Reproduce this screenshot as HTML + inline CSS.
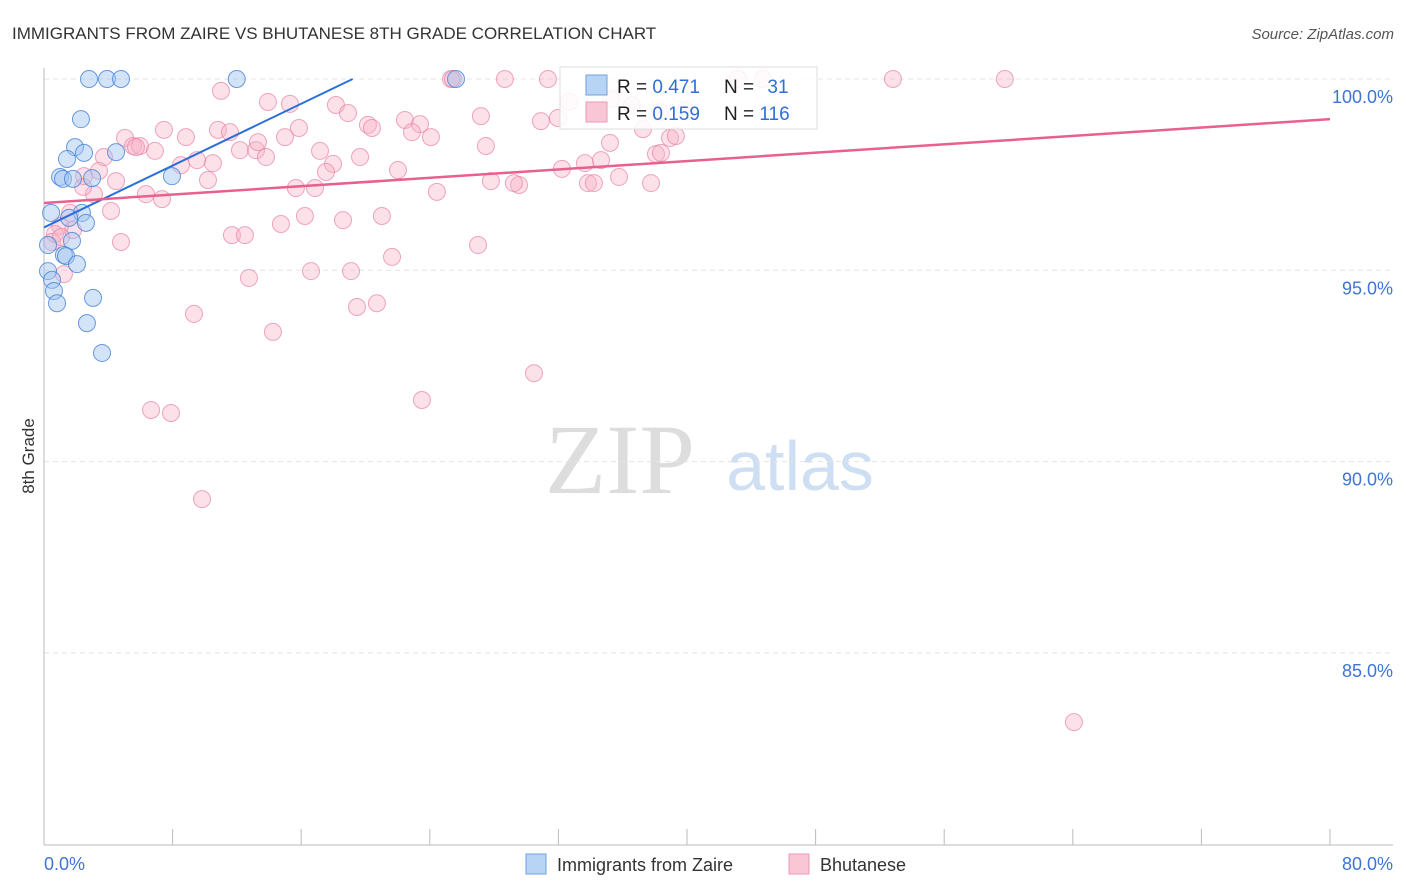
<!DOCTYPE html>
<html><head><meta charset="utf-8"><style>
body{margin:0;background:#fff;font-family:"Liberation Sans",sans-serif}
svg{display:block}
</style></head><body>
<svg id="chart" width="1406" height="892">
<text x="12" y="39" font-size="17" fill="#333">IMMIGRANTS FROM ZAIRE VS BHUTANESE 8TH GRADE CORRELATION CHART</text>
<text x="1394" y="39" font-size="15" fill="#555" font-style="italic" text-anchor="end">Source: ZipAtlas.com</text>
<text x="34" y="456" font-size="17" fill="#333" transform="rotate(-90 34 456)" text-anchor="middle">8th Grade</text>
<text x="620" y="493" font-size="100" fill="#ddd" font-family="Liberation Serif,serif" text-anchor="middle">ZIP</text>
<text x="800" y="490" font-size="70" fill="#cfdff3" text-anchor="middle">atlas</text>
<g id="grid"></g><g id="axes"></g><g id="marks"></g>
<g>
<rect x="560" y="67" width="257" height="62" fill="#fff" fill-opacity="0.85" stroke="#ddd"/>
<rect x="586" y="75" width="21" height="20" fill="#b8d4f5" stroke="#6f9fe0"/>
<rect x="586" y="102" width="21" height="20" fill="#f9c6d5" stroke="#ec9ab4"/>
<text x="617" y="93" font-size="19" fill="#222">R = <tspan fill="#2f6fd6">0.471</tspan></text>
<text x="724" y="93" font-size="19" fill="#222">N = <tspan fill="#2f6fd6" dx="8">31</tspan></text>
<text x="617" y="120" font-size="19" fill="#222">R = <tspan fill="#2f6fd6">0.159</tspan></text>
<text x="724" y="120" font-size="19" fill="#222">N = <tspan fill="#2f6fd6">116</tspan></text>
</g>
<g>
<rect x="526" y="854" width="20" height="20" fill="#b8d4f5" stroke="#6f9fe0"/>
<text x="557" y="871" font-size="18" fill="#333">Immigrants from Zaire</text>
<rect x="789" y="854" width="20" height="20" fill="#f9c6d5" stroke="#ec9ab4"/>
<text x="820" y="871" font-size="18" fill="#333">Bhutanese</text>
</g>
</svg>
<script>
const blueX=[2.80,3.92,4.79,11.99,25.63,2.30,1.93,2.49,1.43,4.48,1.00,1.18,1.80,2.99,7.96,0.44,2.36,2.61,1.56,1.74,0.25,1.24,1.37,2.05,0.25,0.50,0.62,0.81,3.05,2.67,3.61];
const blueY=[100,100,100,100,100,98.95,98.22,98.07,97.91,98.09,97.44,97.39,97.39,97.41,97.46,96.50,96.50,96.24,96.37,95.77,95.66,95.40,95.37,95.16,94.98,94.75,94.46,94.14,94.28,93.62,92.84];
const pinkX=[25.32,25.44,28.67,31.35,43.17,44.72,52.81,59.77,11.01,13.93,15.30,18.16,18.91,27.18,22.45,23.39,30.91,31.97,32.66,35.27,36.57,38.32,39.87,7.46,8.83,10.82,11.57,5.04,5.54,5.97,5.72,6.90,12.19,13.19,13.81,13.31,14.99,15.86,17.17,20.15,20.40,22.89,24.07,27.49,35.21,37.26,38.94,39.31,38.07,38.38,32.22,33.65,34.65,35.77,33.84,34.21,37.76,29.55,29.23,27.80,24.44,22.02,19.66,17.98,17.54,16.86,15.67,10.20,10.51,9.52,8.52,4.48,3.42,3.73,6.34,7.34,4.17,3.11,2.43,2.49,1.62,1.80,1.00,0.68,0.50,4.79,1.24,1.06,11.69,12.50,14.74,16.23,18.60,21.02,27.00,21.65,16.61,19.10,12.75,9.33,14.24,19.47,20.71,30.48,23.51,6.66,7.90,9.83,64.07];
const pinkY=[100,100,100,100,100,100,100,100,99.69,99.40,99.35,99.32,99.11,99.03,98.93,98.82,98.90,98.98,99.40,99.48,99.32,99.14,99.19,98.67,98.48,98.67,98.61,98.46,98.25,98.25,98.22,98.12,98.14,98.14,97.96,98.35,98.48,98.72,98.12,98.80,98.72,98.61,98.48,98.25,98.33,98.69,98.46,98.51,98.04,98.07,97.65,97.80,97.88,97.44,97.28,97.28,97.28,97.23,97.28,97.33,97.05,97.62,97.96,97.78,97.57,97.15,97.15,97.36,97.80,97.88,97.75,97.33,97.60,97.96,96.99,96.86,96.55,96.99,97.18,97.46,96.50,96.05,96.16,95.95,95.74,95.74,94.90,95.87,95.92,95.92,96.21,96.42,96.31,96.42,95.66,95.35,94.98,94.98,94.80,93.86,93.39,94.04,94.14,92.31,91.61,91.35,91.27,89.02,83.19];
const blueLine=[[0,96.12],[19.2,100]];
const pinkLine=[[0,96.76],[80,98.95]];
const yTicks=[100,95,90,85];
const yTickLabels=["100.0%","95.0%","90.0%","85.0%"];
const xTicks=[0,8,16,24,32,40,48,56,64,72,80];
const NS="http://www.w3.org/2000/svg";
const sx=v=>44+v/80*1286;
const sy=v=>79+(100-v)/5*191.3;
function mk(t,a,p){const e=document.createElementNS(NS,t);for(const k in a)e.setAttribute(k,a[k]);p.appendChild(e);return e;}
const grid=document.getElementById('grid'),axes=document.getElementById('axes'),marks=document.getElementById('marks');
yTicks.forEach((v,i)=>{
 const l=mk('line',{x1:44,x2:1393,y1:sy(v),y2:sy(v),stroke:'#e4e4e4','stroke-dasharray':'5,4'},grid);
 
 
 const t=mk('text',{x:1393,y:sy(v)+24,'font-size':18,fill:'#3f74d6','text-anchor':'end'},axes);
 t.textContent=yTickLabels[i];
 
 
});
const ya=mk('line',{x1:44,x2:44,y1:68,y2:845,stroke:'#bbb'},axes);


const xa=mk('line',{x1:44,x2:1393,y1:845,y2:845,stroke:'#bbb'},axes);


xTicks.forEach(v=>{
 const t=mk('line',{x1:sx(v),x2:sx(v),y1:829,y2:845,stroke:'#bbb'},axes);
 
 
});
const xl0=mk('text',{x:44,y:870,'font-size':18,fill:'#3f74d6'},axes);xl0.textContent='0.0%';


const xl1=mk('text',{x:1393,y:870,'font-size':18,fill:'#3f74d6','text-anchor':'end'},axes);xl1.textContent='80.0%';


pinkX.forEach((x,i)=>{
 const c=mk('circle',{cx:sx(x),cy:sy(pinkY[i]),r:8.5,fill:'rgba(248,175,198,0.38)',stroke:'rgba(232,130,165,0.7)','stroke-width':1},marks);
 
 
});
blueX.forEach((x,i)=>{
 const c=mk('circle',{cx:sx(x),cy:sy(blueY[i]),r:8.5,fill:'rgba(160,196,240,0.45)',stroke:'rgba(70,130,215,0.8)','stroke-width':1},marks);
 
 
});
const bl=mk('line',{x1:sx(blueLine[0][0]),y1:sy(blueLine[0][1]),x2:sx(blueLine[1][0]),y2:sy(blueLine[1][1]),stroke:'#2b6fd8','stroke-width':2},marks);


const pl=mk('line',{x1:sx(pinkLine[0][0]),y1:sy(pinkLine[0][1]),x2:sx(pinkLine[1][0]),y2:sy(pinkLine[1][1]),stroke:'#e8608e','stroke-width':2.5},marks);


</script>
</body></html>
